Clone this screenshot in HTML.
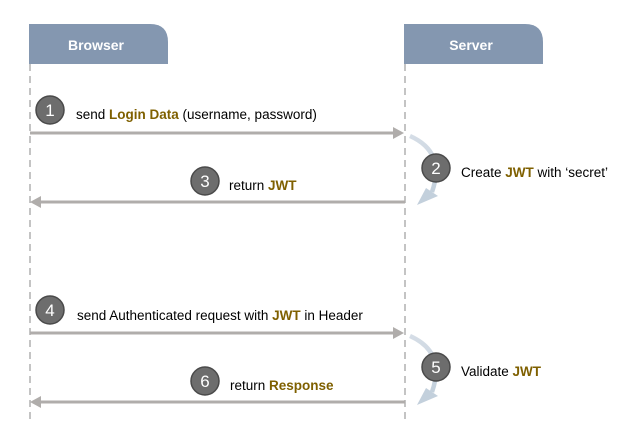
<!DOCTYPE html>
<html><head><style>
html,body{margin:0;padding:0;background:#fff;width:640px;height:421px;overflow:hidden}
text{font-family:"Liberation Sans",sans-serif}
</style></head><body>
<svg width="640" height="421" viewBox="0 0 640 421" xmlns="http://www.w3.org/2000/svg">
<defs>
<linearGradient id="cg" x1="0" y1="0" x2="0" y2="1"><stop offset="0" stop-color="#d5dde6"/><stop offset="1" stop-color="#c3d0dc"/></linearGradient>
</defs>
<path d="M29 24 H150 Q168 24 168 42 V64 H29 Z" fill="#8497b0"/>
<path d="M404 24 H525 Q543 24 543 42 V64 H404 Z" fill="#8497b0"/>
<text x="96" y="50" font-size="14" font-weight="bold" fill="#fff" text-anchor="middle">Browser</text>
<text x="471" y="50" font-size="14" font-weight="bold" fill="#fff" text-anchor="middle">Server</text>
<line x1="30" y1="64" x2="30" y2="421" stroke="#b0b0b0" stroke-width="1.5" stroke-dasharray="7,5"/>
<line x1="405" y1="64" x2="405" y2="421" stroke="#b0b0b0" stroke-width="1.5" stroke-dasharray="7,5"/>
<g stroke="#b0adab" stroke-width="3" fill="#b0adab">
<line x1="30" y1="133" x2="395" y2="133"/><polygon points="404,133 393,127 393,139" stroke="none"/>
<line x1="40" y1="202" x2="405" y2="202"/><polygon points="30,202 41,196 41,208" stroke="none"/>
<line x1="30" y1="333" x2="395" y2="333"/><polygon points="404,333 393,327 393,339" stroke="none"/>
<line x1="40" y1="402" x2="405" y2="402"/><polygon points="30,402 41,396 41,408" stroke="none"/>
</g>
<g fill="none" stroke="url(#cg)" stroke-width="4.5">
<path d="M410 136 Q446 152 432 192"/>
<path d="M410 336 Q446 352 432 392"/>
</g>
<polygon points="417,205 426,188 438,196" fill="#c3d0dc"/>
<polygon points="417,405 426,388 438,396" fill="#c3d0dc"/>
<g fill="#6d6d6d" stroke="#4a4a4a" stroke-width="1.5">
<circle cx="50" cy="110" r="14"/><circle cx="436" cy="168" r="14"/><circle cx="205" cy="181" r="14"/>
<circle cx="50" cy="310" r="14"/><circle cx="436" cy="367" r="14"/><circle cx="205" cy="381" r="14"/>
</g>
<g fill="#fff" font-size="17" text-anchor="middle">
<text x="50" y="116">1</text><text x="436" y="174">2</text><text x="205" y="187">3</text>
<text x="50" y="316">4</text><text x="436" y="373">5</text><text x="205" y="387">6</text>
</g>
<g font-size="13.5" fill="#000">
<text x="76" y="119">send <tspan fill="#7f6000" font-weight="bold">Login Data</tspan> (username, password)</text>
<text x="461" y="177">Create <tspan fill="#7f6000" font-weight="bold">JWT</tspan> with ‘secret’</text>
<text x="229" y="190">return <tspan fill="#7f6000" font-weight="bold">JWT</tspan></text>
<text x="77" y="320">send Authenticated request with <tspan fill="#7f6000" font-weight="bold">JWT</tspan> in Header</text>
<text x="461" y="376">Validate <tspan fill="#7f6000" font-weight="bold">JWT</tspan></text>
<text x="230" y="390">return <tspan fill="#7f6000" font-weight="bold">Response</tspan></text>
</g>
</svg>
</body></html>
